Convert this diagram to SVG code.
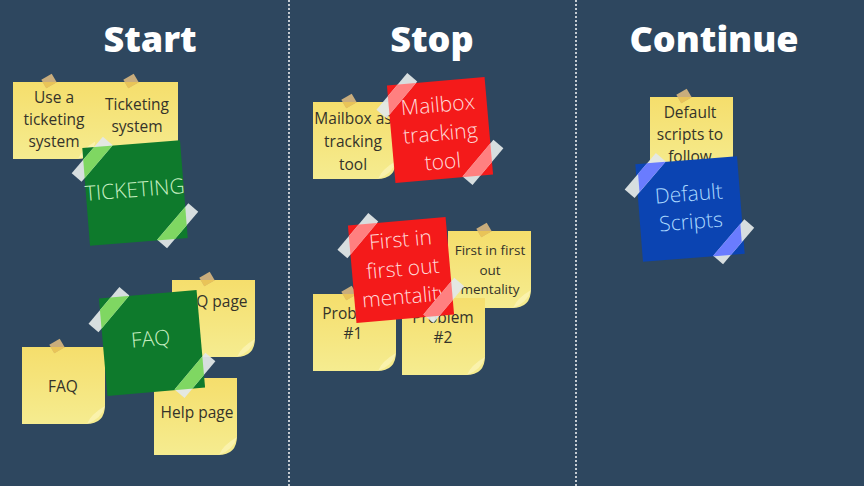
<svg xmlns="http://www.w3.org/2000/svg" xmlns:xlink="http://www.w3.org/1999/xlink" width="864" height="486" viewBox="0 0 864 486">
<defs>
<style>
.title{font-family:"Open Sans","Noto Sans",sans-serif;font-weight:800;font-size:36px;fill:#fff;text-anchor:middle}
.yt{font-family:"Open Sans","Noto Sans",sans-serif;font-weight:400;font-size:15.5px;fill:#34332a;text-anchor:middle}
.ct{font-family:"Open Sans","Noto Sans",sans-serif;font-weight:300;font-size:21px;text-anchor:middle}
.div{stroke:#fff;stroke-width:1.6;stroke-dasharray:2 2;opacity:.9}
.tape{fill:#e2e8e8;opacity:.94}
.ytape{fill:#c9ad7c}
.ytape2{fill:#e9c458}
.curl{fill:#fbf4b4;opacity:.8}
</style>
<linearGradient id="yg" x1="0" y1="0" x2="0" y2="1">
<stop offset="0" stop-color="#f5de6c"/>
<stop offset="1" stop-color="#f5ec90"/>
</linearGradient>
<path id="ynote" d="M0,0 H83 V58 Q83,77 64,77 H0 Z" fill="url(#yg)"/>
<path id="ycurl" class="curl" d="M65,77 Q69,67 83,59 Q80,71 65,77 Z"/>
<rect id="yt" x="-6" y="-5" width="12" height="10" transform="rotate(-30)"/>
<clipPath id="yclip" clipPathUnits="userSpaceOnUse"><rect x="0" y="0" width="83" height="77"/></clipPath>
<clipPath id="nclip" clipPathUnits="userSpaceOnUse"><rect x="-49" y="-49" width="98" height="98"/></clipPath>
<rect id="tp" x="-24" y="-6.5" width="48" height="13"/>
</defs>
<rect width="864" height="486" fill="#2e475f"/>
<line class="div" x1="289" y1="0" x2="289" y2="486"/>
<line class="div" x1="576" y1="0" x2="576" y2="486"/>
<text class="title" x="150" y="52">Start</text>
<text class="title" x="432" y="52">Stop</text>
<text class="title" x="714" y="52">Continue</text>

<!-- START -->
<g id="y1" transform="translate(13,82)">
<use href="#ynote"/><use href="#ycurl"/>
<text class="yt" x="41" y="21">Use a</text>
<text class="yt" x="41" y="43">ticketing</text>
<text class="yt" x="41" y="65">system</text>
<g transform="translate(36,-1)"><use href="#yt" class="ytape"/></g>
<g clip-path="url(#yclip)"><g transform="translate(36,-1)"><use href="#yt" class="ytape2"/></g></g>
</g>
<g id="y2" transform="translate(95,82)">
<use href="#ynote"/><use href="#ycurl"/>
<text class="yt" x="42" y="28">Ticketing</text>
<text class="yt" x="42" y="50">system</text>
<g transform="translate(36,-1)"><use href="#yt" class="ytape"/></g>
<g clip-path="url(#yclip)"><g transform="translate(36,-1)"><use href="#yt" class="ytape2"/></g></g>
</g>
<g id="g1" transform="translate(135,193) rotate(-4.5)">
<rect x="-49" y="-49" width="98" height="98" fill="#0e7a2c"/>
<text class="ct" x="0" y="4" fill="#c8efc2">TICKETING</text>
<use href="#tp" class="tape" transform="translate(-40,-37) rotate(-45)"/>
<use href="#tp" class="tape" transform="translate(40,36) rotate(-45)"/>
<g clip-path="url(#nclip)">
<use href="#tp" fill="#7fd762" transform="translate(-40,-37) rotate(-45)"/>
<use href="#tp" fill="#7fd762" transform="translate(40,36) rotate(-45)"/>
</g>
</g>

<g id="y3" transform="translate(172,280)">
<use href="#ynote"/><use href="#ycurl"/>
<text class="yt" x="41" y="27">FAQ page</text>
<g transform="translate(35,-1)"><use href="#yt" class="ytape"/></g>
<g clip-path="url(#yclip)"><g transform="translate(35,-1)"><use href="#yt" class="ytape2"/></g></g>
</g>
<g id="y4" transform="translate(22,347)">
<use href="#ynote"/><use href="#ycurl"/>
<text class="yt" x="41" y="45">FAQ</text>
<g transform="translate(35,-1)"><use href="#yt" class="ytape"/></g>
<g clip-path="url(#yclip)"><g transform="translate(35,-1)"><use href="#yt" class="ytape2"/></g></g>
</g>
<g id="y5" transform="translate(154,378)">
<use href="#ynote"/><use href="#ycurl"/>
<text class="yt" x="43" y="40">Help page</text>
</g>
<g id="g2" transform="translate(152,343) rotate(-5)">
<rect x="-49" y="-49" width="98" height="98" fill="#0e7a2c"/>
<text class="ct" x="-1" y="3" fill="#c8efc2">FAQ</text>
<use href="#tp" class="tape" transform="translate(-40,-37) rotate(-45)"/>
<use href="#tp" class="tape" transform="translate(40,36) rotate(-45)"/>
<g clip-path="url(#nclip)">
<use href="#tp" fill="#7fd762" transform="translate(-40,-37) rotate(-45)"/>
<use href="#tp" fill="#7fd762" transform="translate(40,36) rotate(-45)"/>
</g>
</g>

<!-- STOP -->
<g id="y6" transform="translate(313,102)">
<use href="#ynote"/><use href="#ycurl"/>
<text class="yt" x="40" y="22">Mailbox as</text>
<text class="yt" x="40" y="45">tracking</text>
<text class="yt" x="40" y="68">tool</text>
<g transform="translate(36,-1)"><use href="#yt" class="ytape"/></g>
<g clip-path="url(#yclip)"><g transform="translate(36,-1)"><use href="#yt" class="ytape2"/></g></g>
</g>
<g id="r1" transform="translate(440,130) rotate(-5)">
<rect x="-49" y="-49" width="98" height="98" fill="#f41a1a"/>
<text class="ct" x="0" y="-18" fill="#ffdada">Mailbox</text>
<text class="ct" x="0" y="10.5" fill="#ffdada">tracking</text>
<text class="ct" x="0" y="39" fill="#ffdada">tool</text>
<use href="#tp" class="tape" transform="translate(-40,-38) rotate(-45)"/>
<use href="#tp" class="tape" transform="translate(40,36) rotate(-45)"/>
<g clip-path="url(#nclip)">
<use href="#tp" fill="#ff8080" transform="translate(-40,-38) rotate(-45)"/>
<use href="#tp" fill="#ff8080" transform="translate(40,36) rotate(-45)"/>
</g>
</g>

<g id="y7" transform="translate(448,231)">
<use href="#ynote"/><use href="#ycurl"/>
<text class="yt" x="42" y="24" style="font-size:13.5px">First in first</text>
<text class="yt" x="42" y="44" style="font-size:13.5px">out</text>
<text class="yt" x="42" y="63" style="font-size:13.5px">mentality</text>
<g transform="translate(36,-1)"><use href="#yt" class="ytape"/></g>
<g clip-path="url(#yclip)"><g transform="translate(36,-1)"><use href="#yt" class="ytape2"/></g></g>
</g>
<g id="y8" transform="translate(313,294)">
<use href="#ynote"/><use href="#ycurl"/>
<text class="yt" x="40" y="25">Problem</text>
<text class="yt" x="40" y="45">#1</text>
<g transform="translate(36,-1)"><use href="#yt" class="ytape"/></g>
<g clip-path="url(#yclip)"><g transform="translate(36,-1)"><use href="#yt" class="ytape2"/></g></g>
</g>
<g id="y9" transform="translate(402,298)">
<use href="#ynote"/><use href="#ycurl"/>
<text class="yt" x="41" y="25">Problem</text>
<text class="yt" x="41" y="45">#2</text>
</g>
<g id="r2" transform="translate(401,270) rotate(-5)">
<rect x="-49" y="-49" width="98" height="98" fill="#f41a1a"/>
<text class="ct" x="2" y="-23" fill="#ffdada">First in</text>
<text class="ct" x="2" y="6" fill="#ffdada">first out</text>
<text class="ct" x="2" y="34" fill="#ffdada">mentality</text>
<use href="#tp" class="tape" transform="translate(-40,-38) rotate(-45)"/>
<use href="#tp" class="tape" transform="translate(40,34) rotate(-45)"/>
<g clip-path="url(#nclip)">
<use href="#tp" fill="#ff8080" transform="translate(-40,-38) rotate(-45)"/>
<use href="#tp" fill="#ff8080" transform="translate(40,34) rotate(-45)"/>
</g>
</g>

<!-- CONTINUE -->
<g id="y10" transform="translate(650,97)">
<use href="#ynote"/><use href="#ycurl"/>
<text class="yt" x="40" y="21">Default</text>
<text class="yt" x="40" y="43">scripts to</text>
<text class="yt" x="40" y="65">follow</text>
<g transform="translate(34,-1)"><use href="#yt" class="ytape"/></g>
<g clip-path="url(#yclip)"><g transform="translate(34,-1)"><use href="#yt" class="ytape2"/></g></g>
</g>
<g id="b1" transform="translate(690,209) rotate(-4.5)">
<rect x="-51" y="-49" width="102" height="98" fill="#0b44b2"/>
<text class="ct" x="0" y="-8" fill="#aad8ff">Default</text>
<text class="ct" x="0" y="20" fill="#aad8ff">Scripts</text>
<use href="#tp" class="tape" transform="translate(-42,-37) rotate(-45)"/>
<use href="#tp" class="tape" transform="translate(41,36) rotate(-45)"/>
<g clip-path="url(#nclip)">
<use href="#tp" fill="#6a7cff" transform="translate(-42,-37) rotate(-45)"/>
<use href="#tp" fill="#6a7cff" transform="translate(41,36) rotate(-45)"/>
</g>
</g>
</svg>
